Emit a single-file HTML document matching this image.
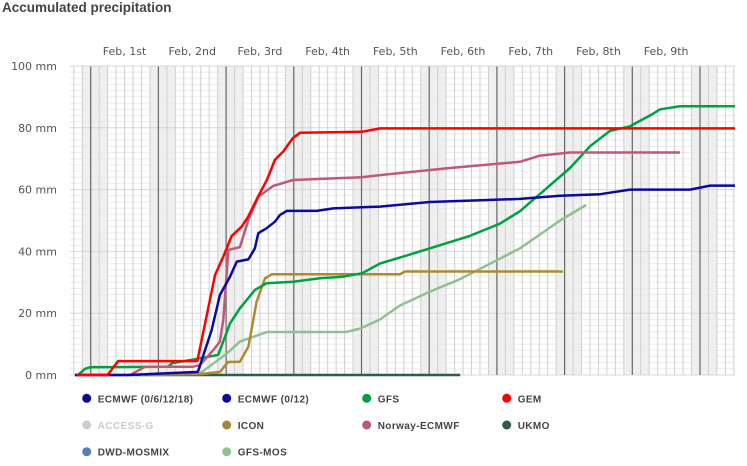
<!DOCTYPE html>
<html><head><meta charset="utf-8">
<style>
html,body{margin:0;padding:0;background:#fff;width:747px;height:466px;overflow:hidden;font-family:"DejaVu Sans","Liberation Sans",sans-serif;}
</style></head>
<body>
<svg id="chart" width="747" height="466" xmlns="http://www.w3.org/2000/svg">
<text x="2" y="12" font-family="Liberation Sans, sans-serif" font-weight="bold" font-size="13.5" fill="#444">Accumulated precipitation</text>
<g id="bg"></g><g id="grid"></g><g id="axes"></g><g id="series"></g><g id="legend"></g>
</svg>
<script>
const dayLabels=["Feb, 1st","Feb, 2nd","Feb, 3rd","Feb, 4th","Feb, 5th","Feb, 6th","Feb, 7th","Feb, 8th","Feb, 9th"];
const yTicks=[0,20,40,60,80,100];
const gemH=[-5,6,9.7,37.8,44.1,47,50,53.5,55.8,59.3,62.4,65.3,68.2,71.7,74.2,96.1,102.6,228.4];
const gemV=[0,0,4.5,4.5,32.4,38.3,45,48,51.2,57.7,63,69.6,72.3,76.7,78.4,78.7,79.8,79.8];
const norH=[14,19.3,36.3,38.7,43.5,45.8,47,48.8,52.9,55.9,59.4,64.7,71.8,96.1,102.6,127.4,152.2,159.3,169.9,208.9];
const norV=[0,2.7,2.7,3.2,8.1,10.8,17.8,40.5,41.4,50.2,57.7,61.2,63.1,64,64.7,67,69,71,72,72];
const ecH=[-5.6,13.2,38,42.9,45.8,49.4,51.8,55.9,58.2,59.4,62.4,65.3,67.1,69.5,80.1,86,96.1,102.6,120.3,152.2,166.4,180.6,191.2,212.5,219.6,228.4];
const ecV=[0,0,1,14.6,25.9,31.8,36.7,37.4,41,45.9,47.5,49.6,51.8,53.1,53.1,53.9,54.3,54.5,56,57,58,58.5,60,60,61.3,61.3];
const gfsH=[-4.5,-2,-0.2,27.4,28.8,38.7,45.2,49.4,52.9,58.2,62.4,71.8,81.3,89.5,96.1,102.6,109.6,120.3,134.4,145.1,152.2,161.1,169.9,177,184.1,191.2,198.3,201.9,209,228.4];
const gfsV=[0,2,2.5,2.7,3.8,5.4,6.5,16.7,21.6,27.5,29.7,30.2,31.3,31.8,32.9,36.1,38,41,45,49,53,60,67,74,79,80.5,84,86,87,87];
const iconH=[19,38.7,45.8,48.7,52.9,55.9,58.8,61.8,64.2,109.6,111.4,167.4];
const iconV=[0,0.3,1,4.2,4.3,9.2,23.7,31.3,32.6,32.6,33.5,33.5];
const mosH=[17.5,38.7,48.3,52.9,62.5,90.5,95.5,102.6,109.6,120.3,130.9,141.5,152.2,159.3,166.4,175.6];
const mosV=[0,0.5,7,10.8,13.9,13.9,15,18,22.5,27,31,36,41,45.5,50,55];
const ukH=[-5.6,131];
const ukV=[0,0];
const NS="http://www.w3.org/2000/svg";
const L=70,R=735,T=66,B=375,X0=90.7,DW=67.7;
const xs=h=>X0+h/24*DW;
const ys=v=>B-v/100*(B-T);
function mk(tag,attrs,parent){const e=document.createElementNS(NS,tag);for(const k in attrs)e.setAttribute(k,attrs[k]);parent.appendChild(e);return e;}
const bg=document.getElementById('bg'),grid=document.getElementById('grid'),axes=document.getElementById('axes');
// shaded night bands
for(let d=-1;d<10;d++){const x1=Math.max(L,xs(d*24-3)),x2=Math.min(R,xs(d*24+6));if(x2>x1){const r=mk('rect',{x:x1,y:T,width:x2-x1,height:B-T,fill:'#efefef'},bg);

}}
// horizontal minor grid
for(let v=0;v<=100;v+=2){const l=mk('line',{x1:L,x2:R,y1:ys(v),y2:ys(v),stroke:v%20==0?'#d8d8d8':'#ececec','stroke-width':1},grid);

}
// vertical 3h grid
for(let h=-9;h<=240;h+=3){const x=xs(h);if(x<L||x>R)continue;const dark=h%24==0;const l=mk('line',{x1:x,x2:x,y1:T,y2:B,stroke:dark?'#666':'#cfcfcf','stroke-width':dark?1.2:1},grid);

}
mk('line',{x1:L,x2:R,y1:T,y2:T,stroke:'#ccd6eb'},axes);
dayLabels.forEach((s,i)=>{const t=mk('text',{x:xs(i*24+12),y:55,'text-anchor':'middle','font-size':11,fill:'#555'},axes);t.textContent=s;

});
yTicks.forEach(v=>{const t=mk('text',{x:57,y:ys(v)+4,'text-anchor':'end','font-size':11,fill:'#555'},axes);t.textContent=v+' mm';

});
const ser=document.getElementById('series');
function line(H,V,color,name){const p=mk('path',{d:H.map((h,i)=>(i?'L':'M')+xs(h).toFixed(1)+' '+ys(V[i]).toFixed(1)).join(''),fill:'none',stroke:color,'stroke-width':2.5,'stroke-linejoin':'round'},ser);

}
line(ukH,ukV,'#2e5e48','ukmo-line');
line(mosH,mosV,'#8fc08f','gfs-mos-line');
line(iconH,iconV,'#b08a30','icon-line');
line(gfsH,gfsV,'#00a040','gfs-line');
line(norH,norV,'#c0587a','norway-ecmwf-line');
line(ecH,ecV,'#0a0aa0','ecmwf-line');
line(gemH,gemV,'#ff0000','gem-line');
const legItems=[["ECMWF (0/6/12/18)","#0a0a9a"],["ECMWF (0/12)","#0a0a9a"],["GFS","#00a040"],["GEM","#ff0000"],["ACCESS-G","#cccccc"],["ICON","#a8843a"],["Norway-ECMWF","#b8587a"],["UKMO","#2e5e48"],["DWD-MOSMIX","#5b7db5"],["GFS-MOS","#8fc08f"]];
const lg=document.getElementById('legend');
legItems.forEach((it,i)=>{const cx=86.7+(i%4)*140,cy=398.3+Math.floor(i/4)*26.7;
const g=mk('g',{},lg);


mk('circle',{cx:cx,cy:cy,r:4.5,fill:it[1]},g);
const t=mk('text',{x:cx+11,y:cy+4,'font-size':10,'font-weight':'bold','letter-spacing':'0.4',fill:i==4?'#cccccc':'#444','font-family':'Liberation Sans, sans-serif'},g);t.textContent=it[0];});
</script>
</body></html>
